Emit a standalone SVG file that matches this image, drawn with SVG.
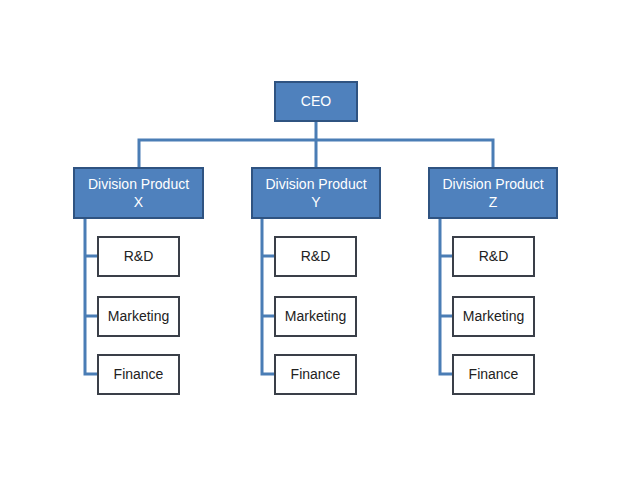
<svg xmlns="http://www.w3.org/2000/svg" width="638" height="479" viewBox="0 0 638 479">
<style>
.b{fill:#4F81BD;stroke:#2F5381;stroke-width:2}
.c{fill:#fff;stroke:#3a3f48;stroke-width:2}
.l{fill:none;stroke:#4A7DB5;stroke-width:3}
text{font-family:"Liberation Sans",Arial,sans-serif;font-size:14px;text-anchor:middle}
.w{fill:#fff}.d{fill:#222}
</style>
<rect width="638" height="479" fill="#fff"/>
<g id="connectors">
<path class="l" d="M316 121V168M139 168V140H493V168"/>
<path class="l" d="M85 218V374H98M85 256H98M85 316H98"/>
<path class="l" d="M262 218V374H275M262 256H275M262 316H275"/>
<path class="l" d="M440 218V374H453M440 256H453M440 316H453"/>
</g>
<g id="ceo"><rect class="b" x="275" y="82" width="82" height="39"/><text class="w" x="316" y="106">CEO</text></g>
<g id="divX"><rect class="b" x="74" y="168" width="129" height="50"/><text class="w" x="138.5" y="189">Division Product</text><text class="w" x="138.5" y="207">X</text></g>
<g id="divY"><rect class="b" x="252" y="168" width="128" height="50"/><text class="w" x="316" y="189">Division Product</text><text class="w" x="316" y="207">Y</text></g>
<g id="divZ"><rect class="b" x="429" y="168" width="128" height="50"/><text class="w" x="493" y="189">Division Product</text><text class="w" x="493" y="207">Z</text></g>
<g id="xRD"><rect class="c" x="98" y="237" width="81" height="39"/><text class="d" x="138.5" y="261">R&amp;D</text></g>
<g id="xMkt"><rect class="c" x="98" y="297" width="81" height="39"/><text class="d" x="138.5" y="321">Marketing</text></g>
<g id="xFin"><rect class="c" x="98" y="355" width="81" height="39"/><text class="d" x="138.5" y="379">Finance</text></g>
<g id="yRD"><rect class="c" x="275" y="237" width="81" height="39"/><text class="d" x="315.5" y="261">R&amp;D</text></g>
<g id="yMkt"><rect class="c" x="275" y="297" width="81" height="39"/><text class="d" x="315.5" y="321">Marketing</text></g>
<g id="yFin"><rect class="c" x="275" y="355" width="81" height="39"/><text class="d" x="315.5" y="379">Finance</text></g>
<g id="zRD"><rect class="c" x="453" y="237" width="81" height="39"/><text class="d" x="493.5" y="261">R&amp;D</text></g>
<g id="zMkt"><rect class="c" x="453" y="297" width="81" height="39"/><text class="d" x="493.5" y="321">Marketing</text></g>
<g id="zFin"><rect class="c" x="453" y="355" width="81" height="39"/><text class="d" x="493.5" y="379">Finance</text></g>
</svg>
